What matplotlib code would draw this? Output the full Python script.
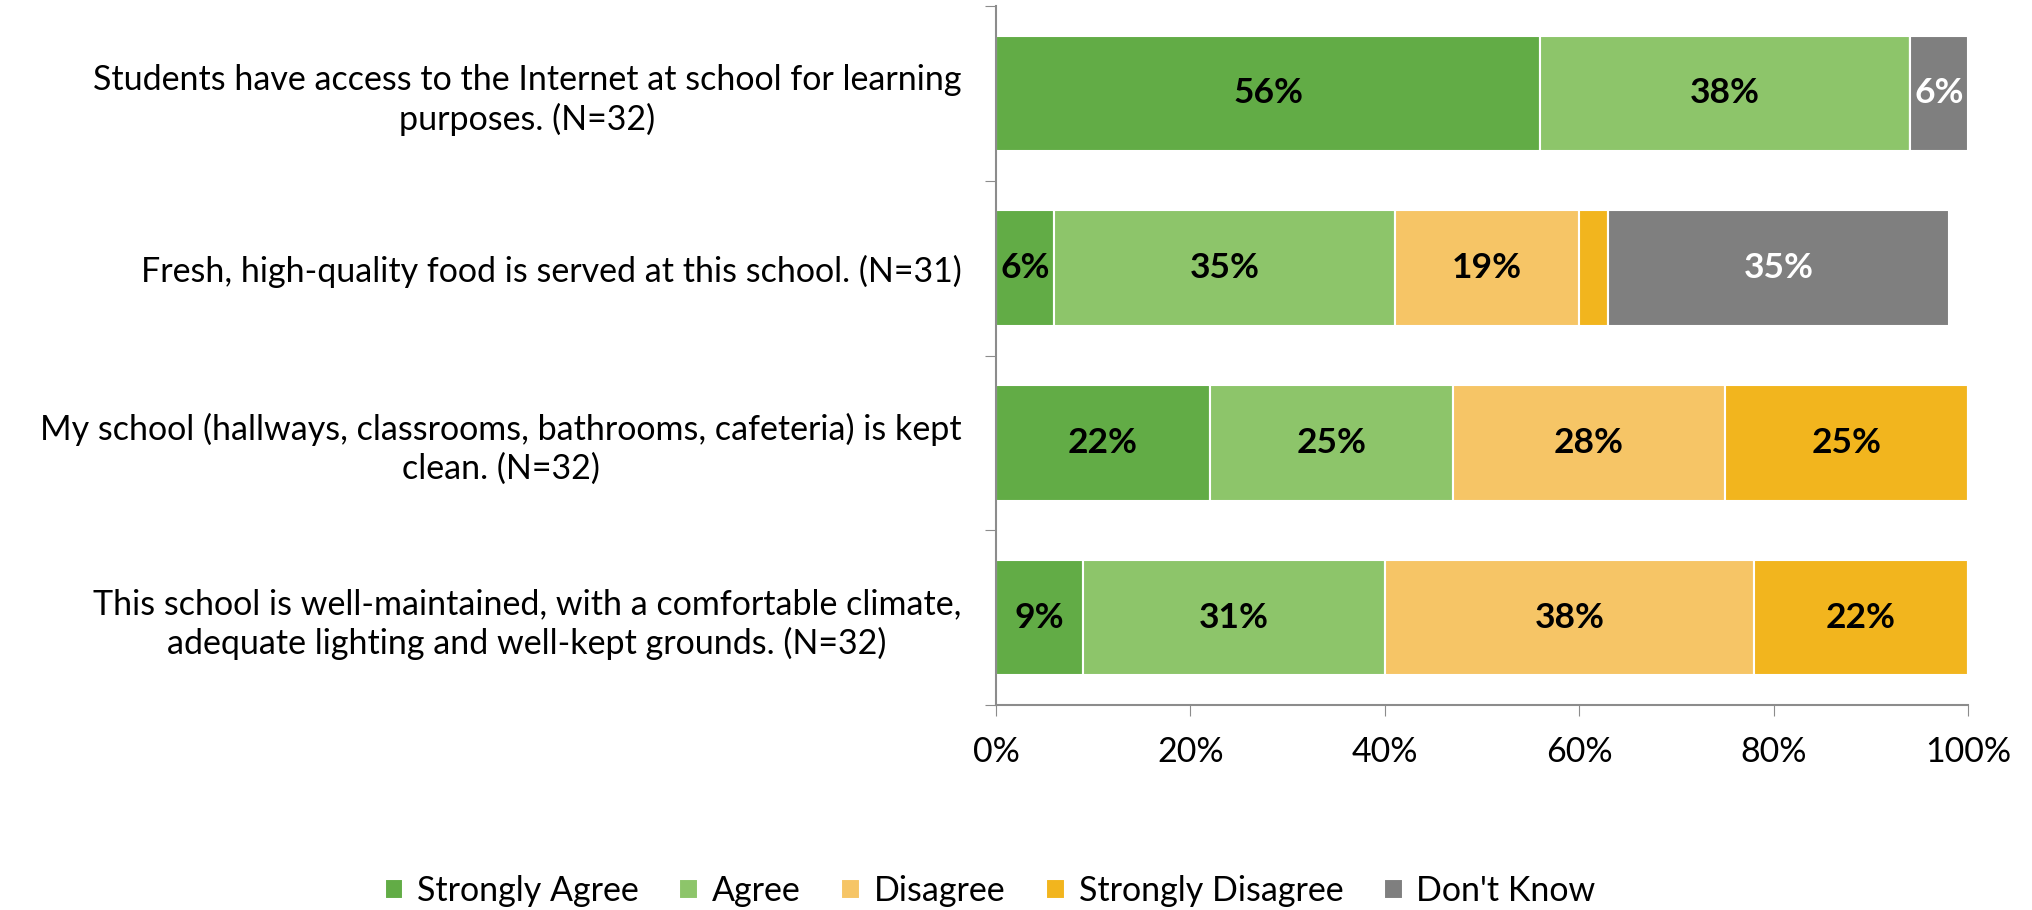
import matplotlib
matplotlib.use("Agg")
import matplotlib.pyplot as plt
import numpy as np

plt.rcParams['font.family'] = ['Lato', 'DejaVu Sans']

categories = [
    "Students have access to the Internet at school for learning\npurposes. (N=32)",
    "Fresh, high-quality food is served at this school. (N=31)",
    "My school (hallways, classrooms, bathrooms, cafeteria) is kept\nclean. (N=32)",
    "This school is well-maintained, with a comfortable climate,\nadequate lighting and well-kept grounds. (N=32)",
]
series_names = ["Strongly Agree", "Agree", "Disagree", "Strongly Disagree", "Don't Know"]
strongly_agree = [56, 6, 22, 9]
agree = [38, 35, 25, 31]
disagree = [0, 19, 28, 38]
strongly_disagree = [0, 3, 25, 22]
dont_know = [6, 35, 0, 0]
tick_labels = ["0%", "20%", "40%", "60%", "80%", "100%"]

colors = ["#62AC46", "#8DC56A", "#F6C566", "#F2B51E", "#7F7F7F"]
label_colors = ["black", "black", "black", "black", "white"]

data = [strongly_agree, agree, disagree, strongly_disagree, dont_know]

FS = 24.5

fig = plt.figure(figsize=(20.33, 9.10), dpi=100)
ax = fig.add_axes([996/2033, 1 - 705/910, (1968-996)/2033, (705-6)/910])

y = np.arange(len(categories))
left = np.zeros(len(categories))
for vals, name, c, lc in zip(data, series_names, colors, label_colors):
    vals = np.array(vals, dtype=float)
    ax.barh(y, vals, left=left, height=0.66, color=c, edgecolor="white", linewidth=1.5, label=name)
    for yi, v, l in zip(y, vals, left):
        if v >= 5:
            ax.text(l + v / 2, yi, f"{int(v)}%", ha="center", va="center",
                    fontsize=FS + 1, fontweight="bold", color=lc)
    left += vals

ax.set_xlim(0, 100)
ax.set_ylim(len(categories) - 0.5, -0.5)
ax.set_xticks(np.arange(0, 101, 20))
ax.set_xticklabels(tick_labels, fontsize=FS)
ax.set_yticks(np.arange(-0.5, len(categories), 1.0))
ax.set_yticklabels([])
ax.set_yticks(y, minor=True)
ax.set_yticklabels(categories, minor=True, fontsize=FS, multialignment="center", linespacing=1.25)
ax.tick_params(axis="y", which="minor", length=0, pad=25)
ax.tick_params(axis="y", which="major", length=8, color="#8c8c8c", direction="out")
ax.tick_params(axis="x", which="major", length=8, color="#8c8c8c", direction="out", pad=14)
for s in ["top", "right"]:
    ax.spines[s].set_visible(False)
for s in ["left", "bottom"]:
    ax.spines[s].set_color("#8c8c8c")
    ax.spines[s].set_linewidth(1.5)

handles, labels = ax.get_legend_handles_labels()
fig.legend(handles, labels, loc="center", bbox_to_anchor=(0.487, 1 - 891/910), ncol=5,
           frameon=False, fontsize=FS, handlelength=0.55, handleheight=0.55,
           handletextpad=0.4, columnspacing=1.2)

fig.savefig("out.png", dpi=100)
